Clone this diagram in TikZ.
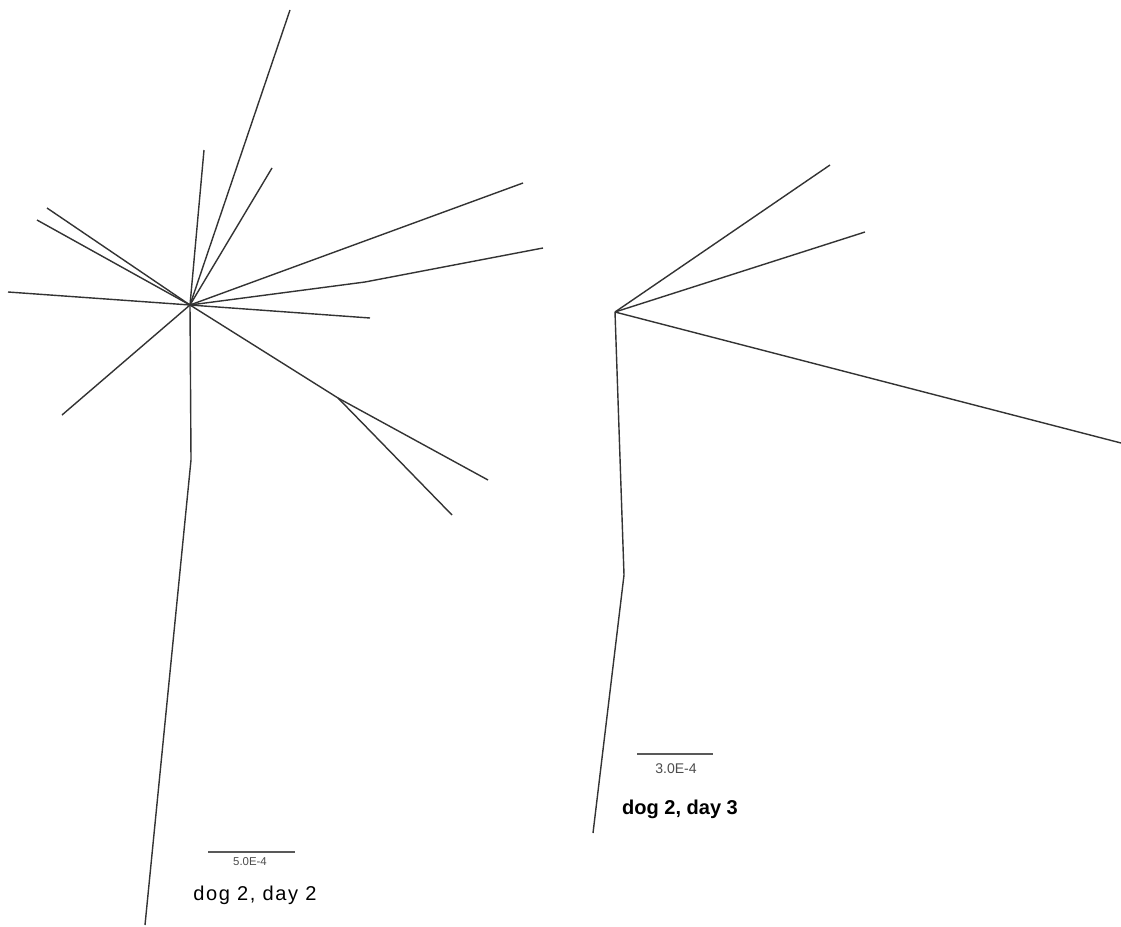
\documentclass[tikz,border=0pt]{standalone}
\usepackage{fontspec}
\setmainfont{Liberation Sans}
\usepackage{tikz}
\usetikzlibrary{positioning}

\begin{document}
\begin{tikzpicture}[
  x=0.02cm, y=-0.02cm,
  branch/.style={draw, line width=0.8pt, color=black!80},
  scalebar/.style={draw, line width=0.8pt, color=black!65},
  barlabel/.style={font=\fontsize{6.5}{7}\selectfont, text=black!70, inner sep=0pt},
  title/.style={font=\fontsize{11.4}{13}\selectfont, anchor=base, inner sep=0pt}
]
\useasboundingbox (0,0) rectangle (1121,926);

% dog 2, day 2
\coordinate (hubA) at (190,305);
\coordinate (a1) at (290,10);
\coordinate (a2) at (204,150);
\coordinate (a3) at (272,168);
\coordinate (a4) at (47,208);
\coordinate (a5) at (37,220);
\coordinate (a6) at (8,292);
\coordinate (a7) at (62,415);
\coordinate (a8) at (523,183);
\coordinate (a9) at (365,282);
\coordinate (a10) at (543,248);
\coordinate (a11) at (370,318);
\coordinate (inA) at (338,398);
\coordinate (a12) at (488,480);
\coordinate (a13) at (452,515);
\coordinate (rootA) at (191,460);
\coordinate (a14) at (145,925);

\draw[branch] (hubA)--(a1);
\draw[branch] (hubA)--(a2);
\draw[branch] (hubA)--(a3);
\draw[branch] (hubA)--(a4);
\draw[branch] (hubA)--(a5);
\draw[branch] (hubA)--(a6);
\draw[branch] (hubA)--(a7);
\draw[branch] (hubA)--(a8);
\draw[branch] (hubA)--(a9)--(a10);
\draw[branch] (hubA)--(a11);
\draw[branch] (hubA)--(inA)--(a12);
\draw[branch] (inA)--(a13);
\draw[branch] (hubA)--(rootA)--(a14);

\coordinate (barA1) at (208,852);
\coordinate (barA2) at (295,852);
\draw[scalebar] (barA1)--(barA2);
\node[barlabel] (lenA) at (250,862) {5.0E-4};
\node[title] (nameA) at (255,900) {\addfontfeature{LetterSpace=8}dog 2, day 2};

% dog 2, day 3
\coordinate (hubB) at (615,312);
\coordinate (b1) at (830,165);
\coordinate (b2) at (865,232);
\coordinate (b3) at (1121,443);
\coordinate (rootB) at (624,575);
\coordinate (b4) at (593,833);

\draw[branch] (hubB)--(b1);
\draw[branch] (hubB)--(b2);
\draw[branch] (hubB)--(b3);
\draw[branch] (hubB)--(rootB)--(b4);

\coordinate (barB1) at (637,754);
\coordinate (barB2) at (713,754);
\draw[scalebar] (barB1)--(barB2);
\node[barlabel, font=\fontsize{8}{9}\selectfont] (lenB) at (676,769) {3.0E-4};
\node[title, font=\fontsize{11.4}{13}\selectfont\bfseries] (nameB) at (680,814) {dog 2, day 3};

\end{tikzpicture}
\end{document}
